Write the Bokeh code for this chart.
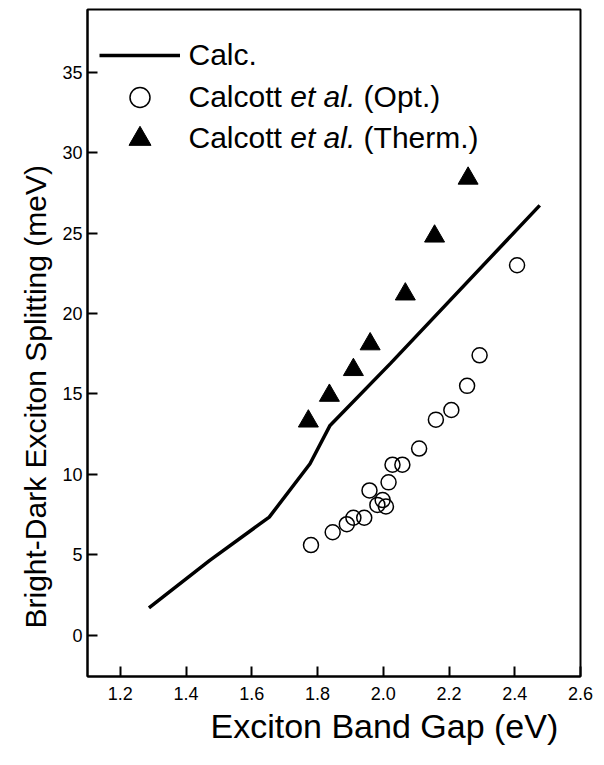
from bokeh.plotting import figure
from bokeh.models import (Range1d, FixedTicker, PrintfTickFormatter, Legend,
                          LegendItem, Label, Title)
from bokeh.embed import file_html
from bokeh.resources import INLINE

# ---- data ----
calc_x = [1.287, 1.472, 1.653, 1.777, 1.838, 2.022, 2.476]
calc_y = [1.70, 4.65, 7.34, 10.66, 13.04, 16.90, 26.72]

opt_x = [1.780, 1.846, 1.889, 1.909, 1.942, 1.958, 1.982, 1.998, 2.008,
         2.016, 2.028, 2.058, 2.109, 2.160, 2.207, 2.255, 2.293, 2.407]
opt_y = [5.6, 6.4, 6.9, 7.3, 7.3, 9.0, 8.1, 8.4, 8.0,
         9.5, 10.6, 10.6, 11.6, 13.4, 14.0, 15.5, 17.4, 23.0]

therm_x = [1.772, 1.836, 1.909, 1.960, 2.067, 2.156, 2.258]
therm_y = [13.3, 14.9, 16.5, 18.1, 21.2, 24.8, 28.4]

x_ticks = [1.2, 1.4, 1.6, 1.8, 2.0, 2.2, 2.4, 2.6]
y_ticks = [0, 5, 10, 15, 20, 25, 30, 35]

x_title = "Exciton Band Gap (eV)"
y_title = "Bright-Dark Exciton Splitting (meV)"

FONT = "Liberation Sans"

p = figure(width=604, height=765,
           x_range=Range1d(1.1, 2.6), y_range=Range1d(-2.57, 38.9),
           output_backend="svg", toolbar_location=None,
           min_border_left=87, min_border_right=24,
           min_border_top=9, min_border_bottom=89)
p.xgrid.visible = False
p.ygrid.visible = False
p.outline_line_color = "black"
p.outline_line_width = 2
p.outline_line_alpha = 1
p.background_fill_color = "white"
p.border_fill_color = "white"

for ax in (p.xaxis[0], p.yaxis[0]):
    ax.axis_line_width = 2
    ax.axis_line_color = "black"
    ax.major_tick_line_width = 2
    ax.major_tick_line_color = "black"
    ax.major_tick_in = 10
    ax.major_tick_out = 0
    ax.minor_tick_line_color = None
    ax.major_label_text_font = FONT
    ax.major_label_text_font_size = "18px"
    ax.major_label_text_color = "black"

p.xaxis.ticker = FixedTicker(ticks=x_ticks)
p.xaxis.formatter = PrintfTickFormatter(format="%.1f")
p.xaxis.major_label_standoff = 10
p.yaxis.ticker = FixedTicker(ticks=y_ticks)
p.yaxis.major_label_standoff = 5

r_line = p.line(calc_x, calc_y, line_color="black", line_width=3.5)
r_opt = p.scatter(opt_x, opt_y, marker="circle", size=15, fill_alpha=0,
                  line_color="black", line_width=1.5)
r_th = p.scatter(therm_x, therm_y, marker="triangle", size=20,
                 fill_color="black", line_color="black")


def one_legend(renderer, loc, gh):
    lg = Legend(items=[LegendItem(label=" ", renderers=[renderer])],
                location=loc, glyph_width=81, glyph_height=gh,
                spacing=0, padding=0, margin=0, label_standoff=0,
                label_text_font_size="8px", label_width=0, label_height=0,
                border_line_color=None, background_fill_alpha=0)
    p.add_layout(lg)


one_legend(r_line, (12, 603), 36)
one_legend(r_opt, (12, 554), 50)
one_legend(r_th, (12, 510), 55)


def lab(text, x, y, italic=False):
    p.add_layout(Label(x=x, y=y, x_units="screen", y_units="screen", text=text,
                       text_font=FONT, text_font_size="30px",
                       text_font_style="italic" if italic else "normal",
                       text_baseline="alphabetic", text_align="left",
                       text_color="black"))


lab("Calc.", 101, 622)
lab("Calcott", 101, 580)
lab("et al.", 202.7, 580, italic=True)
lab("(Opt.)", 276.1, 580)
lab("Calcott", 101, 539)
lab("et al.", 202.7, 539, italic=True)
lab("(Therm.)", 276.1, 539)

ty = Title(text=y_title, align="left", offset=48, standoff=16, text_font=FONT,
           text_font_size="30px", text_font_style="normal", text_color="black")
p.add_layout(ty, "left")
tx = Title(text=x_title, align="left", offset=123, standoff=5, text_font=FONT,
           text_font_size="34px", text_font_style="normal", text_color="black")
p.add_layout(tx, "below")

open("out.html", "w").write(file_html(p, INLINE))
